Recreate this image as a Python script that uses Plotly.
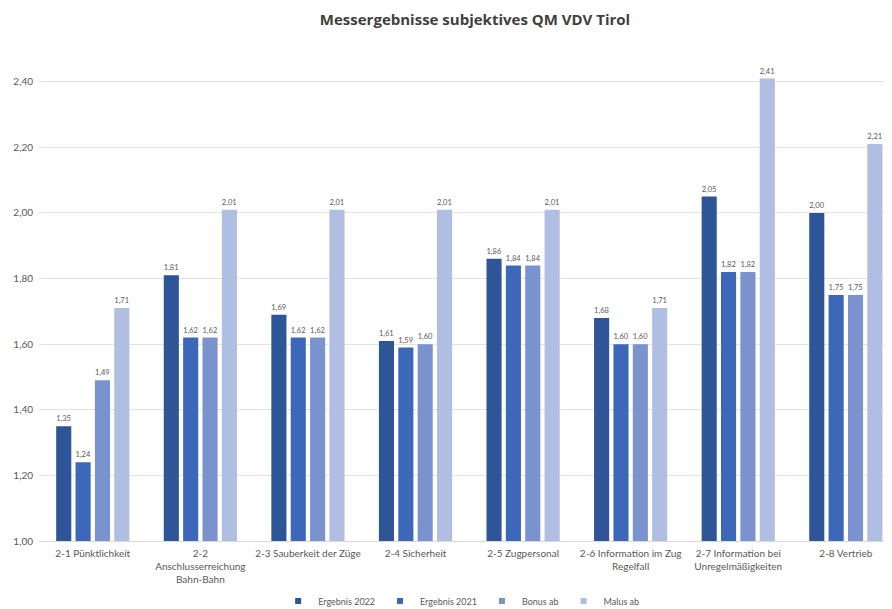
import plotly.graph_objects as go

categories = ["2-1 Pünktlichkeit", "2-2<br>Anschlusserreichung<br>Bahn-Bahn", "2-3 Sauberkeit der Züge",
              "2-4 Sicherheit", "2-5 Zugpersonal", "2-6 Information im Zug<br>Regelfall",
              "2-7 Information bei<br>Unregelmäßigkeiten", "2-8 Vertrieb"]
ergebnis_2022 = [1.35, 1.81, 1.69, 1.61, 1.86, 1.68, 2.05, 2.00]
ergebnis_2021 = [1.24, 1.62, 1.62, 1.59, 1.84, 1.60, 1.82, 1.75]
bonus_ab = [1.49, 1.62, 1.62, 1.60, 1.84, 1.60, 1.82, 1.75]
malus_ab = [1.71, 2.01, 2.01, 2.01, 2.01, 1.71, 2.41, 2.21]
y_ticks = [1.0, 1.2, 1.4, 1.6, 1.8, 2.0, 2.2, 2.4]

series = [("Ergebnis 2022", ergebnis_2022, "#2E5597"),
          ("Ergebnis 2021", ergebnis_2021, "#3D68BA"),
          ("Bonus ab", bonus_ab, "#7A93CF"),
          ("Malus ab", malus_ab, "#AFBEE1")]

W, H = 884, 601  # page body has an 8px margin

fig = go.Figure()
for name, vals, col in series:
    fig.add_trace(go.Bar(
        x=categories, y=[v - 1.0 for v in vals], base=1.0, name=name,
        marker=dict(color=col, line=dict(width=0)),
        text=[f"{v:.2f}".replace(".", ",") for v in vals],
        textposition="outside", cliponaxis=False,
        textfont=dict(size=8, color="#595959"),
        showlegend=False,
    ))
# legend entries with small square swatches
for name, vals, col in series:
    fig.add_trace(go.Scatter(
        x=[None], y=[None], mode="markers", name=name,
        marker=dict(symbol="square", size=6, color=col),
        showlegend=True,
    ))

fig.update_layout(
    width=W, height=H,
    margin=dict(l=31, r=1, t=35, b=68),
    paper_bgcolor="white", plot_bgcolor="white",
    font=dict(family="Lato, sans-serif", color="#595959"),
    title=dict(text="<b>Messergebnisse subjektives QM VDV Tirol</b>", x=467 / W, xanchor="center",
               y=1 - 12 / H, yref="container", yanchor="middle",
               font=dict(size=15, color="#404040", family="Open Sans, sans-serif")),
    barmode="group", bargap=0.28, bargroupgap=0.22,
    separators=",.",
    legend=dict(orientation="h", x=438 / W, xanchor="center", yref="container", y=8 / H,
                yanchor="middle", font=dict(size=9, color="#595959"), itemwidth=30,
                traceorder="normal", tracegroupgap=0),
    showlegend=True,
)
fig.update_xaxes(showline=True, linecolor="#D9D9D9", linewidth=1, ticks="",
                 tickfont=dict(size=10, color="#595959"), tickangle=0,
                 ticklabelstandoff=3, range=[-0.5, 7.42])
fig.update_yaxes(range=[1.0, 2.518], tickvals=y_ticks, tickformat=".2f",
                 showgrid=True, gridcolor="#E3E3E3", gridwidth=1, zeroline=False,
                 tickfont=dict(size=10, color="#595959"), ticks="", ticklabelstandoff=5)

fig.write_html("out.html")
